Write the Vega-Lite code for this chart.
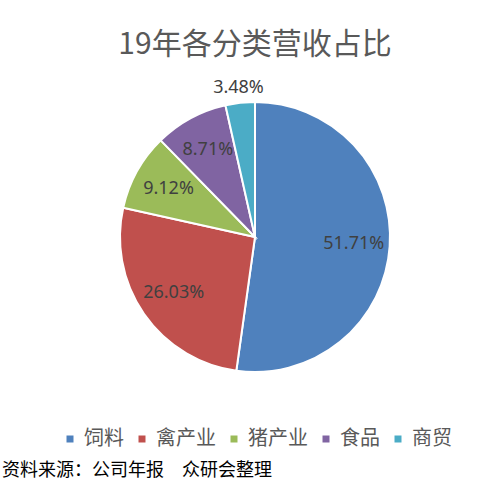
{
  "$schema": "https://vega.github.io/schema/vega-lite/v6.json",
  "autosize": {"type": "none"},
  "width": 488,
  "height": 474,
  "padding": {"left": 11, "top": 0, "right": 0, "bottom": 17},
  "background": "white",
  "title": {
    "text": "19年各分类营收占比",
    "font": "Noto Sans CJK SC",
    "fontSize": 30,
    "fontWeight": "normal",
    "color": "#595959",
    "anchor": "middle",
    "frame": "group",
    "offset": 0,
    "dy": 60
  },
  "config": {"view": {"stroke": null}},
  "data": {
    "values": [
      {"idx": 1, "category": "饲料", "share": 0.5171},
      {"idx": 2, "category": "禽产业", "share": 0.2603},
      {"idx": 3, "category": "猪产业", "share": 0.0912},
      {"idx": 4, "category": "食品", "share": 0.0871},
      {"idx": 5, "category": "商贸", "share": 0.0348}
    ]
  },
  "layer": [
    {
      "mark": {"type": "arc", "radius": 135, "stroke": "white", "strokeWidth": 2},
      "encoding": {
        "theta": {"field": "share", "type": "quantitative", "stack": true},
        "order": {"field": "idx", "type": "quantitative"},
        "color": {
          "field": "category",
          "type": "nominal",
          "scale": {
            "domain": ["饲料", "禽产业", "猪产业", "食品", "商贸"],
            "range": ["#4F81BD", "#C0504D", "#9BBB59", "#8064A2", "#4BACC6"]
          },
          "legend": {
            "title": null,
            "orient": "none",
            "direction": "horizontal",
            "legendX": 49,
            "legendY": 429,
            "symbolType": "square",
            "symbolSize": 49,
            "symbolStrokeWidth": 0,
            "labelFont": "Noto Sans CJK SC",
            "labelFontSize": 20,
            "labelColor": "#595959",
            "labelOffset": 4,
            "columnPadding": 8
          }
        }
      }
    },
    {
      "mark": {"type": "text", "font": "Noto Sans", "fontSize": 18, "color": "#404040"},
      "encoding": {
        "theta": {"field": "share", "type": "quantitative", "stack": true},
        "order": {"field": "idx", "type": "quantitative"},
        "radius": {
          "field": "share",
          "type": "quantitative",
          "scale": {"type": "linear", "domain": [0.0348, 0.0871], "range": [150, 99], "clamp": true, "zero": false}
        },
        "text": {"field": "share", "type": "quantitative", "format": ".2%"}
      }
    },
    {
      "data": {"values": [{"note": "资料来源：公司年报　众研会整理"}]},
      "mark": {"type": "text", "font": "Noto Sans CJK SC", "fontSize": 18, "color": "#000000", "align": "left", "baseline": "middle"},
      "encoding": {
        "x": {"value": -9},
        "y": {"value": 471},
        "text": {"field": "note", "type": "nominal"}
      }
    }
  ]
}
